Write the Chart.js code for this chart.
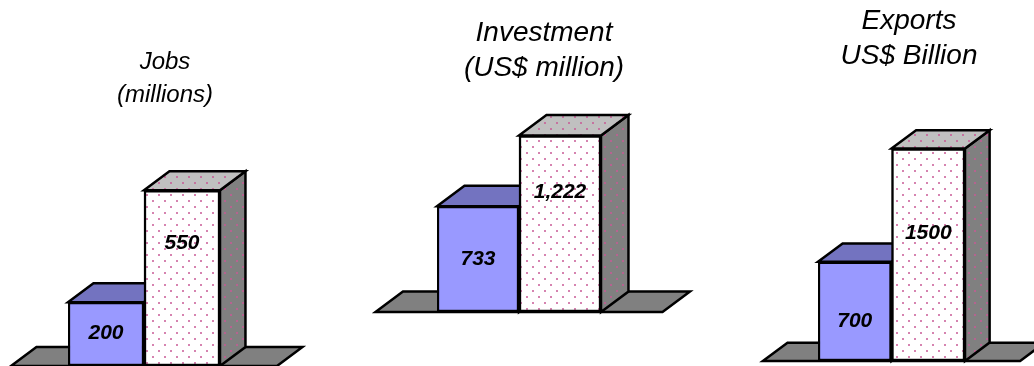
<!DOCTYPE html>
<html>
<head>
<meta charset="utf-8">
<script src="https://cdn.jsdelivr.net/npm/chart.js@4.4.0/dist/chart.umd.min.js"></script>
<style>
  html, body { margin: 0; padding: 0; background: #fff; overflow: hidden; }
  .box { position: absolute; top: 0; }
</style>
</head>
<body>
<div class="box" style="left:0px"><canvas id="jobsChart" width="340" height="366"></canvas></div>
<div class="box" style="left:350px"><canvas id="investmentChart" width="360" height="366"></canvas></div>
<div class="box" style="left:720px"><canvas id="exportsChart" width="314" height="366"></canvas></div>
<script>
const barKeys = ["first", "second"];

const jobsTitle = ["Jobs", "(millions)"];
const jobsValues = [200, 550];
const jobsLabels = ["200", "550"];

const investmentTitle = ["Investment", "(US$ million)"];
const investmentValues = [733, 1222];
const investmentLabels = ["733", "1,222"];

const exportsTitle = ["Exports", "US$ Billion"];
const exportsValues = [700, 1500];
const exportsLabels = ["700", "1500"];

const FONT = "'Liberation Sans', Arial, sans-serif";

function dotted(bg) {
  const c = document.createElement("canvas");
  c.width = 12;
  c.height = 12;
  const g = c.getContext("2d");
  g.fillStyle = bg;
  g.fillRect(0, 0, 12, 12);
  g.fillStyle = "rgba(200,90,150,0.75)";
  g.fillRect(2, 2, 2, 2);
  g.fillRect(8, 8, 2, 2);
  return g.createPattern(c, "repeat");
}

const frontColors = ["#9999ff", dotted("#ffffff")];
const topColors = ["#7373c0", dotted("#c0c0c0")];
const sideColors = ["#5c5c99", dotted("#808080")];
const floorColor = "#808080";

function poly(ctx, pts, fill) {
  ctx.beginPath();
  ctx.moveTo(pts[0][0], pts[0][1]);
  for (let i = 1; i < pts.length; i++) ctx.lineTo(pts[i][0], pts[i][1]);
  ctx.closePath();
  ctx.fillStyle = fill;
  ctx.fill();
  ctx.stroke();
}

// draws the floor, the tops and the sides of the bars, then the value labels
const box3d = {
  id: "box3d",
  beforeDatasetsDraw(chart) {
    const ctx = chart.ctx;
    const bars = chart.getDatasetMeta(0).data;
    const base = chart.scales.y.getPixelForValue(0);
    const w = bars[0].width;
    const dx = w * 0.335;
    const dy = w * 0.25;
    const left = bars[0].x - w / 2 - w * 0.75;
    const right = bars[bars.length - 1].x + w / 2 + w * 0.75;

    ctx.save();
    ctx.lineWidth = 2.5;
    ctx.strokeStyle = "#000";
    ctx.lineJoin = "miter";
    poly(ctx, [[left, base], [right, base], [right + dx, base - dy], [left + dx, base - dy]], floorColor);

    bars.forEach((b, i) => {
      const x0 = b.x - w / 2;
      const x1 = b.x + w / 2;
      const top = b.y;
      poly(ctx, [[x1, top], [x1 + dx, top - dy], [x1 + dx, base - dy], [x1, base]], sideColors[i]);
      poly(ctx, [[x0, top], [x1, top], [x1 + dx, top - dy], [x0 + dx, top - dy]], topColors[i]);
    });
    ctx.restore();
  },
  afterDatasetsDraw(chart, args, opts) {
    const ctx = chart.ctx;
    const bars = chart.getDatasetMeta(0).data;
    const base = chart.scales.y.getPixelForValue(0);
    ctx.save();
    ctx.font = "italic bold 21px " + FONT;
    ctx.fillStyle = "#000";
    ctx.textAlign = "center";
    ctx.textBaseline = "middle";
    bars.forEach((b, i) => {
      const y = base - opts.labelAt[i] * (base - b.y);
      ctx.fillText(opts.labels[i], b.x, y);
    });
    ctx.restore();
  }
};

function makeChart(id, values, labels, title, cfg) {
  return new Chart(id, {
    type: "bar",
    data: {
      labels: barKeys,
      datasets: [
        {
          data: values,
          backgroundColor: frontColors,
          borderColor: "#000",
          borderWidth: 2.5,
          borderSkipped: false,
          barPercentage: 1,
          categoryPercentage: 1,
        },
      ],
    },
    options: {
      responsive: false,
      animation: false,
      events: [],
      layout: {
        padding: { left: cfg.padLeft, right: cfg.padRight, top: 0, bottom: cfg.padBottom },
      },
      scales: {
        x: { display: false },
        y: {
          position: "right",
          min: 0,
          max: cfg.max,
          grid: { display: false },
          border: { display: false },
          ticks: { display: false },
          afterFit: (scale) => {
            scale.width = cfg.axisWidth;
          },
        },
      },
      plugins: {
        legend: { display: false },
        tooltip: { enabled: false },
        title: {
          display: true,
          text: title,
          color: "#000",
          font: { family: FONT, size: cfg.titleSize, style: "italic", weight: "normal", lineHeight: cfg.lineHeight },
          padding: { top: cfg.titleTop, bottom: 10 },
        },
        box3d: { labels: labels, labelAt: cfg.labelAt },
      },
    },
    plugins: [box3d],
  });
}

makeChart("jobsChart", jobsValues, jobsLabels, jobsTitle, {
  padLeft: 68, padRight: 78, axisWidth: 42, padBottom: 0, max: 764,
  titleSize: 24, lineHeight: "33px", titleTop: 46, labelAt: [0.52, 0.7],
});

makeChart("investmentChart", investmentValues, investmentLabels, investmentTitle, {
  padLeft: 87, padRight: 59, axisWidth: 50, padBottom: 54, max: 1496,
  titleSize: 28, lineHeight: "35px", titleTop: 16, labelAt: [0.5, 0.68],
});

makeChart("exportsChart", exportsValues, exportsLabels, exportsTitle, {
  padLeft: 98, padRight: 34, axisWidth: 35, padBottom: 5, max: 1963,
  titleSize: 28, lineHeight: "34.5px", titleTop: 4, labelAt: [0.4, 0.6],
});
</script>
</body>
</html>
